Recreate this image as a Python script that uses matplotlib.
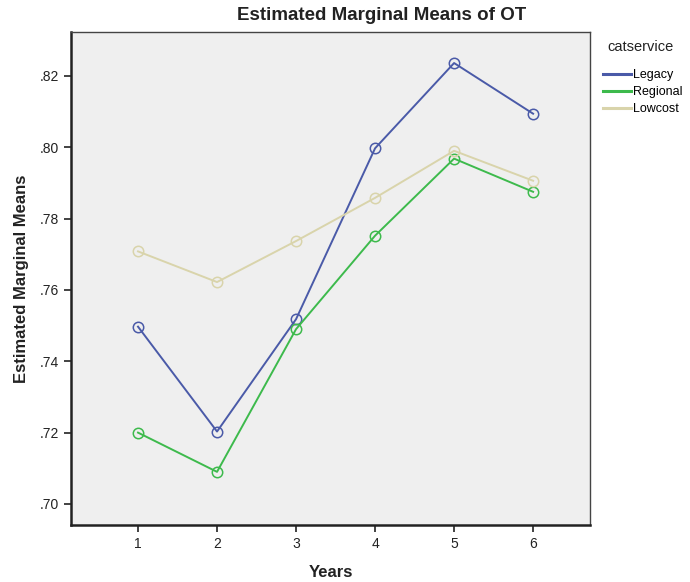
import matplotlib
matplotlib.use("Agg")
import matplotlib.pyplot as plt

years = [1, 2, 3, 4, 5, 6]
legacy = [0.7497, 0.7203, 0.7518, 0.7997, 0.8236, 0.8094]
regional = [0.7200, 0.7090, 0.7490, 0.7752, 0.7968, 0.7875]
lowcost = [0.7708, 0.7622, 0.7737, 0.7858, 0.7990, 0.7906]
series_names = ["Legacy", "Regional", "Lowcost"]
colors = ["#4a5aa8", "#3dba4c", "#d9d4ab"]
yticks = [0.70, 0.72, 0.74, 0.76, 0.78, 0.80, 0.82]
ytick_labels = [".70", ".72", ".74", ".76", ".78", ".80", ".82"]

plt.rcParams['font.family'] = ['Liberation Sans', 'DejaVu Sans']

W, H = 690, 582
fig = plt.figure(figsize=(6.9, 5.82), dpi=100)
ax = fig.add_axes([71/W, 1 - 525/H, (590-71)/W, (525-32)/H])
ax.set_facecolor("#efefef")

for name, vals, c in zip(series_names, [legacy, regional, lowcost], colors):
    ax.plot(years, vals, color=c, lw=1.4, marker='o', markersize=7.5,
            markerfacecolor='none', markeredgecolor=c, markeredgewidth=1.1, label=name)

ax.set_xlim(0.152, 6.72)
ax.set_ylim(0.6941, 0.8323)
ax.set_xticks(years)
ax.set_xticklabels([str(y) for y in years])
ax.set_yticks(yticks)
ax.set_yticklabels(ytick_labels)
ax.tick_params(axis='both', labelsize=10, length=5, width=1.2, color="#222222", labelcolor="#222222")
for s in ["left", "bottom"]:
    ax.spines[s].set_linewidth(1.8)
    ax.spines[s].set_color("#222222")
for s in ["top", "right"]:
    ax.spines[s].set_linewidth(1.0)
    ax.spines[s].set_color("#444444")

fig.text(382/W, 1 - 16/H, "Estimated Marginal Means of OT", fontsize=13.5, fontweight='bold',
         color="#222222", ha='center', va='center')
ax.set_xlabel("Years", fontsize=12, fontweight='bold', color="#222222", labelpad=10)
ax.set_ylabel("Estimated Marginal Means", fontsize=12, fontweight='bold', color="#222222", labelpad=8)

fig.text(607/W, 1 - 47/H, "catservice", fontsize=10.5, color="#222222", ha='left', va='center')
leg = fig.legend(loc='upper left', bbox_to_anchor=(603/W, 1 - 69/H), frameon=False,
                 fontsize=9, handlelength=2.2, handletextpad=0.2,
                 labelspacing=0.4, borderaxespad=0.0, borderpad=0.0)
for h in leg.legend_handles:
    h.set_marker('')
    h.set_linewidth(2.2)

fig.savefig("out.png", dpi=100)
